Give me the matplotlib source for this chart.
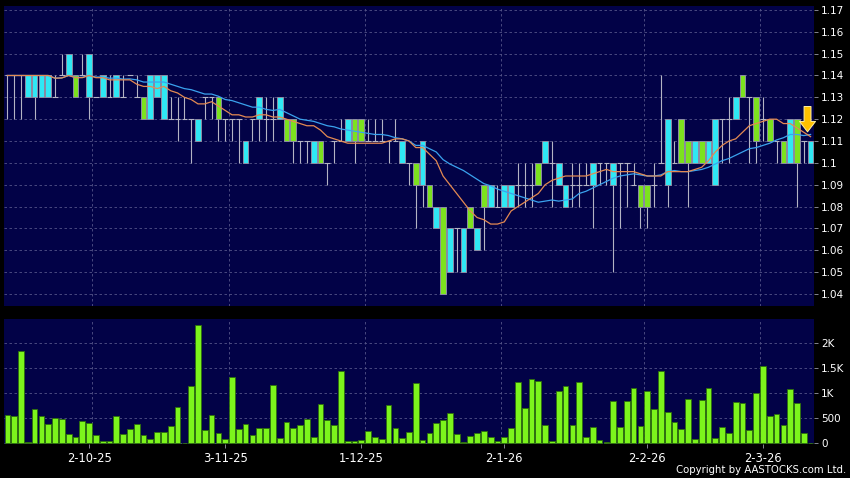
import numpy as np
import pandas as pd
import matplotlib
matplotlib.use('Agg')
import matplotlib.pyplot as plt

# daily bars, oldest first (cyan = close above open, green = close below open)
open_ = [
    1.14, 1.14, 1.14, 1.13, 1.13, 1.13, 1.13, 1.13, 1.14, 1.14,  # 0-9
    1.14, 1.14, 1.13, 1.13, 1.13, 1.13, 1.13, 1.13, 1.14, 1.13,  # 10-19
    1.13, 1.12, 1.13, 1.12, 1.12, 1.12, 1.12, 1.12, 1.11, 1.13,  # 20-29
    1.13, 1.13, 1.12, 1.12, 1.12, 1.10, 1.12, 1.12, 1.12, 1.12,  # 30-39
    1.12, 1.12, 1.12, 1.11, 1.11, 1.10, 1.11, 1.10, 1.11, 1.11,  # 40-49
    1.11, 1.12, 1.12, 1.11, 1.11, 1.11, 1.11, 1.11, 1.10, 1.10,  # 50-59
    1.10, 1.09, 1.09, 1.07, 1.08, 1.05, 1.07, 1.05, 1.08, 1.06,  # 60-69
    1.09, 1.08, 1.08, 1.08, 1.08, 1.09, 1.09, 1.09, 1.10, 1.10,  # 70-79
    1.10, 1.09, 1.08, 1.09, 1.09, 1.09, 1.09, 1.10, 1.10, 1.09,  # 80-89
    1.10, 1.10, 1.09, 1.09, 1.09, 1.09, 1.10, 1.09, 1.10, 1.12,  # 90-99
    1.11, 1.10, 1.11, 1.10, 1.09, 1.12, 1.12, 1.12, 1.14, 1.13,  # 100-109
    1.13, 1.12, 1.12, 1.11, 1.11, 1.10, 1.12, 1.11, 1.10]        # 110-118

close = [
    1.14, 1.14, 1.14, 1.14, 1.14, 1.14, 1.14, 1.13, 1.14, 1.15,
    1.13, 1.14, 1.15, 1.13, 1.14, 1.13, 1.14, 1.13, 1.14, 1.13,
    1.12, 1.14, 1.14, 1.14, 1.12, 1.12, 1.12, 1.12, 1.12, 1.13,
    1.13, 1.12, 1.12, 1.12, 1.12, 1.11, 1.12, 1.13, 1.12, 1.12,
    1.13, 1.11, 1.11, 1.11, 1.11, 1.11, 1.10, 1.10, 1.11, 1.11,
    1.12, 1.11, 1.11, 1.11, 1.11, 1.11, 1.11, 1.11, 1.11, 1.10,
    1.09, 1.11, 1.08, 1.08, 1.04, 1.07, 1.07, 1.07, 1.07, 1.07,
    1.08, 1.09, 1.08, 1.09, 1.09, 1.09, 1.09, 1.09, 1.09, 1.11,
    1.10, 1.10, 1.09, 1.09, 1.09, 1.09, 1.10, 1.10, 1.10, 1.10,
    1.10, 1.10, 1.09, 1.08, 1.08, 1.09, 1.10, 1.12, 1.10, 1.10,
    1.10, 1.11, 1.10, 1.11, 1.12, 1.12, 1.12, 1.13, 1.13, 1.13,
    1.11, 1.12, 1.11, 1.11, 1.10, 1.12, 1.10, 1.11, 1.11]

high = [
    1.14, 1.14, 1.14, 1.14, 1.14, 1.14, 1.14, 1.14, 1.15, 1.15,
    1.14, 1.15, 1.15, 1.13, 1.14, 1.14, 1.14, 1.14, 1.14, 1.14,
    1.13, 1.14, 1.14, 1.14, 1.13, 1.13, 1.13, 1.12, 1.12, 1.13,
    1.13, 1.13, 1.12, 1.12, 1.12, 1.11, 1.12, 1.13, 1.13, 1.13,
    1.13, 1.12, 1.12, 1.11, 1.11, 1.11, 1.11, 1.10, 1.11, 1.12,
    1.12, 1.12, 1.12, 1.12, 1.12, 1.12, 1.11, 1.12, 1.11, 1.10,
    1.10, 1.11, 1.09, 1.08, 1.08, 1.07, 1.07, 1.07, 1.08, 1.07,
    1.09, 1.09, 1.09, 1.09, 1.09, 1.10, 1.10, 1.10, 1.10, 1.11,
    1.11, 1.10, 1.09, 1.10, 1.10, 1.10, 1.10, 1.10, 1.10, 1.10,
    1.10, 1.10, 1.10, 1.09, 1.09, 1.10, 1.14, 1.12, 1.11, 1.12,
    1.11, 1.11, 1.11, 1.11, 1.12, 1.12, 1.13, 1.13, 1.14, 1.13,
    1.13, 1.13, 1.12, 1.11, 1.11, 1.12, 1.12, 1.11, 1.11]

low = [
    1.12, 1.12, 1.12, 1.13, 1.12, 1.13, 1.13, 1.13, 1.14, 1.14,
    1.13, 1.14, 1.12, 1.13, 1.13, 1.13, 1.13, 1.13, 1.14, 1.13,
    1.12, 1.12, 1.13, 1.12, 1.12, 1.11, 1.12, 1.10, 1.11, 1.12,
    1.12, 1.11, 1.11, 1.11, 1.10, 1.10, 1.11, 1.11, 1.11, 1.11,
    1.12, 1.11, 1.10, 1.10, 1.10, 1.10, 1.10, 1.09, 1.10, 1.11,
    1.11, 1.10, 1.11, 1.11, 1.11, 1.11, 1.10, 1.11, 1.10, 1.09,
    1.07, 1.08, 1.08, 1.07, 1.04, 1.05, 1.05, 1.05, 1.07, 1.06,
    1.06, 1.08, 1.08, 1.08, 1.08, 1.08, 1.08, 1.08, 1.09, 1.10,
    1.08, 1.09, 1.08, 1.08, 1.08, 1.09, 1.07, 1.09, 1.09, 1.05,
    1.07, 1.08, 1.09, 1.07, 1.07, 1.08, 1.10, 1.08, 1.10, 1.10,
    1.08, 1.10, 1.10, 1.10, 1.09, 1.10, 1.10, 1.12, 1.13, 1.10,
    1.10, 1.11, 1.11, 1.10, 1.10, 1.10, 1.08, 1.10, 1.10]

volume = [
    560, 540, 1830, 25, 675, 545, 385, 505, 490, 185,
    130, 435, 395, 160, 45, 45, 545, 185, 280, 390,
    160, 85, 225, 225, 350, 715, 10, 1130, 2350, 260,
    555, 210, 80, 1310, 285, 385, 170, 305, 310, 1165,
    115, 425, 310, 370, 490, 130, 775, 455, 365, 1435,
    55, 45, 75, 245, 130, 80, 755, 310, 105, 225,
    1205, 65, 210, 395, 470, 610, 190, 20, 150, 200,
    240, 125, 40, 125, 300, 1210, 710, 1285, 1240, 365,
    45, 1040, 1145, 365, 1220, 125, 330, 65, 20, 835,
    320, 840, 1105, 345, 1035, 690, 1430, 620, 415, 290,
    880, 95, 855, 1090, 105, 330, 205, 820, 795, 270,
    995, 1535, 550, 590, 355, 1080, 810, 205, 0]

date_labels = ['2-10-25', '3-11-25', '1-12-25', '2-1-26', '2-2-26', '2-3-26']
date_idx = [12, 32, 52, 73, 94, 111]
month_lines = [12.5, 32.5, 52.5, 72.5, 93.5, 110.5]

price_ticks = np.round(np.arange(1.04, 1.175, 0.01), 2)
vol_ticks = [0, 500, 1000, 1500, 2000]
vol_labels = ['0', '500', '1K', '1.5K', '2K']

# colours
bg = '#020247'
cyan = '#2fe8f4'
green = '#7ce21e'
wick = '#b4b4c4'
grid_c = '#545488'

o = np.array(open_)
c = np.array(close)
h = np.array(high)
l = np.array(low)
x = np.arange(len(c))

ma10 = pd.Series(c).rolling(10, min_periods=1).mean()
ma20 = pd.Series(c).rolling(20, min_periods=1).mean()

fig = plt.figure(figsize=(8.5, 4.78), dpi=100, facecolor='black')
ax = fig.add_axes([4/850, 1 - 306/478, 810/850, 300/478])
axv = fig.add_axes([4/850, 1 - 443.5/478, 810/850, 124.5/478], sharex=ax)

for a in (ax, axv):
    a.set_facecolor(bg)
    for s in a.spines.values():
        s.set_visible(False)
    for m in month_lines:
        a.axvline(m, color=grid_c, lw=0.6, ls=(0, (3, 3)), zorder=0)
    a.yaxis.tick_right()
    a.grid(True, axis='y', color=grid_c, lw=0.6, ls=(0, (3, 3)), zorder=0)
    a.tick_params(axis='y', length=3, width=0.6, color='#9a9aaa',
                  labelcolor='white', labelsize=7.5, pad=2)

# price panel
up = c > o
dn = c < o
flat = np.isclose(c, o)
bw = 0.84

ax.vlines(x, l, h, color=wick, lw=0.8, zorder=2)
ax.hlines(c[flat], x[flat] - bw/2, x[flat] + bw/2, color=wick, lw=0.8, zorder=2)
ax.bar(x[up], (c - o)[up], bottom=o[up], width=bw, color=cyan,
       edgecolor='#8c8ca4', lw=0.7, zorder=3)
ax.bar(x[dn], (o - c)[dn], bottom=c[dn], width=bw, color=green,
       edgecolor='#8c8ca4', lw=0.7, zorder=3)

ax.plot(x, ma20, color='#3aa2ee', lw=0.9, zorder=4)
ax.plot(x, ma10, color='#e48a52', lw=0.9, zorder=4)

# latest signal arrow
ax.annotate('', xy=(x[-1] - 0.45, 1.1142), xytext=(x[-1] - 0.45, 1.1258),
            arrowprops=dict(arrowstyle='simple,head_length=0.75,head_width=1.15,tail_width=0.5',
                            fc='#ffc000', ec='#fff0a0', lw=0.7, shrinkA=0, shrinkB=0),
            zorder=6)

ax.set_ylim(1.0345, 1.1718)
ax.set_yticks(price_ticks)
ax.set_yticklabels([f'{v:g}' for v in price_ticks])
ax.tick_params(axis='x', bottom=False, labelbottom=False)

# volume panel
axv.bar(x, volume, width=bw, color='#7cf41c', edgecolor='#2e6e0c', lw=0.6, zorder=3)
axv.set_ylim(-4, 2470)
axv.set_yticks(vol_ticks)
axv.set_yticklabels(vol_labels)
axv.set_xticks(date_idx)
axv.set_xticklabels(date_labels)
axv.tick_params(axis='x', length=3, width=0.6, color='#9a9aaa',
                labelcolor='white', labelsize=8.3, pad=3)
axv.set_xlim(-0.5, len(c) - 0.5)

fig.text(0.995, 0.016, 'Copyright by AASTOCKS.com Ltd.', color='white',
         fontsize=7.3, ha='right', va='center')

fig.savefig('out.png', dpi=100, facecolor='black')
